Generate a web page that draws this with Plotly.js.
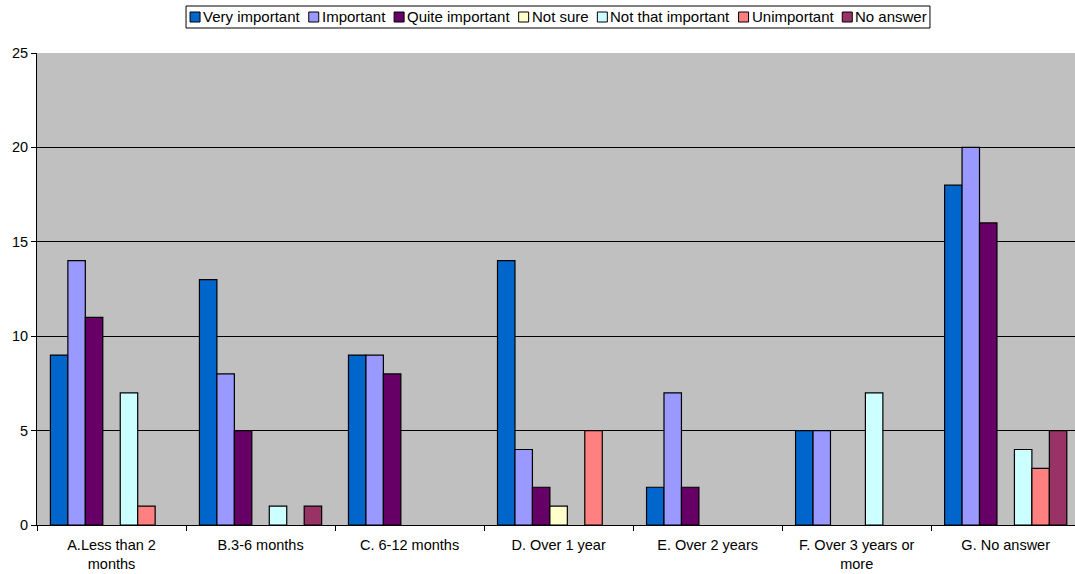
<!DOCTYPE html>
<html>
<head>
<meta charset="utf-8">
<script src="https://cdn.plot.ly/plotly-3.0.1.min.js"></script>
<style>html,body{margin:0;padding:0;background:#fff;}#chart{width:1075px;height:574px;}</style>
</head>
<body>
<div id="chart"></div>
<script>
const categories = ["A.Less than 2<br>months", "B.3-6 months", "C. 6-12 months", "D. Over 1 year", "E. Over 2 years", "F. Over 3 years or<br>more", "G. No answer"];
const seriesNames = ["Very important", "Important", "Quite important", "Not sure", "Not that important", "Unimportant", "No answer"];
const veryImportant = [9, 13, 9, 14, 2, 5, 18];
const important = [14, 8, 9, 4, 7, 5, 20];
const quiteImportant = [11, 5, 8, 2, 2, 0, 16];
const notSure = [0, 0, 0, 1, 0, 0, 0];
const notThatImportant = [7, 1, 0, 0, 0, 7, 4];
const unimportant = [1, 0, 0, 5, 0, 0, 3];
const noAnswer = [0, 1, 0, 0, 0, 0, 5];
const yTicks = [0, 5, 10, 15, 20, 25];

const seriesValues = [veryImportant, important, quiteImportant, notSure, notThatImportant, unimportant, noAnswer];
const colors = ["#0066CC", "#9999FF", "#660066", "#FFFFCC", "#CCFFFF", "#FF8080", "#993366"];

const W = 1075, H = 574;
const M = {l: 37, r: 0, t: 53, b: 49};
const FONT = "Liberation Sans, Arial, sans-serif";
const pw = W - M.l - M.r, ph = H - M.t - M.b;
const px2x = p => (p - M.l) / pw;
const py2y = p => (H - M.b - p) / ph;

const traces = seriesValues.map((vals, i) => ({
  type: "bar",
  name: seriesNames[i],
  x: categories,
  y: vals.map(v => v === 0 ? null : v),
  marker: {color: colors[i], line: {color: "#000", width: 1.2}},
  showlegend: false,
  hoverinfo: "y+name"
}));

// Custom legend (compact, like the original)
const legendFontSize = 15;
const ctx = document.createElement("canvas").getContext("2d");
ctx.font = legendFontSize + "px 'Liberation Sans'";
const sym = 10, symGap = 2, itemGap = 10, pad = 4;
const widths = seriesNames.map(n => ctx.measureText(n).width);
let total = pad * 2;
widths.forEach((w, i) => { total += sym + symGap + w + (i < widths.length - 1 ? itemGap : 0); });
const centerPx = 558;
const boxL = centerPx - total / 2, boxR = centerPx + total / 2;
const boxT = 6, boxB = 28, midY = (boxT + boxB) / 2;
const shapes = [{
  type: "rect", xref: "paper", yref: "paper",
  x0: px2x(boxL), x1: px2x(boxR), y0: py2y(boxB), y1: py2y(boxT),
  line: {color: "#000", width: 1}, fillcolor: "#fff"
}];
const annotations = [];
let cx = boxL + pad;
seriesNames.forEach((n, i) => {
  shapes.push({
    type: "rect", xref: "paper", yref: "paper",
    x0: px2x(cx), x1: px2x(cx + sym), y0: py2y(midY + sym / 2), y1: py2y(midY - sym / 2),
    line: {color: "#000", width: 1}, fillcolor: colors[i]
  });
  cx += sym + symGap;
  annotations.push({
    xref: "paper", yref: "paper", x: px2x(cx), y: py2y(midY),
    xanchor: "left", yanchor: "middle", text: n, showarrow: false,
    font: {family: FONT, size: legendFontSize, color: "#000"}, borderpad: 0
  });
  cx += widths[i] + itemGap;
});

const layout = {
  width: W, height: H,
  margin: M,
  paper_bgcolor: "#fff",
  plot_bgcolor: "#C0C0C0",
  font: {family: FONT, size: 14.5, color: "#000"},
  barmode: "group",
  bargap: 0.18,
  bargroupgap: 0,
  showlegend: false,
  shapes: shapes,
  annotations: annotations,
  xaxis: {
    type: "category",
    range: [-0.5, 6.465],
    showline: true, linecolor: "#000", linewidth: 1,
    ticks: "outside", tickson: "boundaries", ticklen: 5, tickcolor: "#000",
    showgrid: false,
    tickfont: {size: 14.5},
    ticklabelstandoff: 7,
    automargin: false
  },
  yaxis: {
    range: [0, 25],
    tickvals: yTicks,
    showline: true, linecolor: "#000", linewidth: 1,
    ticks: "outside", ticklen: 5, tickcolor: "#000",
    showgrid: true, gridcolor: "#000", gridwidth: 1,
    zeroline: false,
    tickfont: {size: 14.5},
    automargin: false
  }
};

Plotly.newPlot("chart", traces, layout, {displayModeBar: false, staticPlot: true});
</script>
</body>
</html>
